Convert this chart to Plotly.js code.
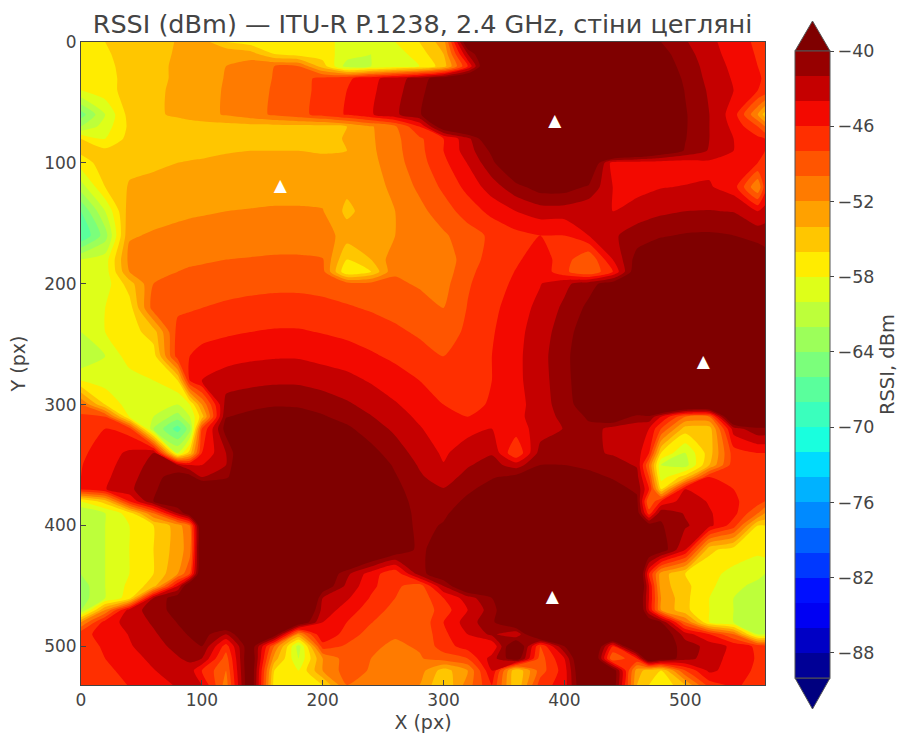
<!DOCTYPE html>
<html>
<head>
<meta charset="utf-8">
<script src="https://cdn.plot.ly/plotly-3.0.1.min.js"></script>
<style>html,body{margin:0;padding:0;background:#fff}#chart{width:898px;height:734px}</style>
</head>
<body>
<div id="chart"></div>
<script>
const xs = [0,20,40,60,80,90,100,120,140,160,180,200,220,240,260,280,300,320,340,360,380,400,420,440,460,470,480,500,520,540,560,566];
const ys = [0,10,20,30,40,60,70,80,90,100,120,140,160,180,190,200,220,240,260,280,300,310,320,340,350,360,370,380,390,400,420,440,450,460,470,480,490,500,510,520,532];

const r000 = [-57,-56,-55.4,-54.6,-53.9,-53.4,-53,-56,-57,-57,-57,-57,-59,-60,-58,-56,-53,-37,-36,-33,-32,-32,-33,-34.5,-37,-38.5,-40,-41.8,-43.5,-45,-46.4,-46.8];
const r010 = [-57,-56.2,-55.4,-54.6,-53.8,-53.3,-52.9,-52.1,-53,-56,-57,-57,-59,-60,-59,-57,-54,-42,-35,-31,-30,-30,-32,-34,-36.5,-37.6,-39.2,-41.2,-43.2,-44.8,-46.2,-46.6];
const r020 = [-57,-56.5,-55.3,-54.5,-53.7,-53.2,-52.8,-52,-51,-50,-50,-55,-61,-60,-59,-58,-55,-46,-34,-31,-30,-30,-31,-33,-36,-37.2,-38.6,-40.8,-42.8,-44.5,-46,-46.4];
const r030 = [-57.5,-56.7,-55.3,-54.5,-53.7,-53.2,-52.8,-51.9,-50.9,-49.9,-48.7,-47.5,-46.5,-44.6,-43,-41,-38.6,-35.9,-32.7,-30,-30,-30,-30.5,-32,-35,-36.4,-38,-40.4,-42.6,-44.2,-45.8,-46.2];
const r040 = [-58,-56.8,-55.2,-54.4,-53.6,-53.2,-52.8,-51.8,-50.8,-49.8,-48.7,-47.4,-46,-44.4,-42.7,-40.6,-38.2,-35.4,-31.7,-30,-30,-30,-30,-31,-34.7,-36.2,-37.7,-40.1,-42.3,-44,-46,-46.5];
const r060 = [-65,-60,-55.2,-54.4,-53.6,-53.1,-52.7,-51.8,-50.8,-49.7,-48.6,-47.3,-45.8,-44.2,-42.4,-40.2,-37.7,-34.5,-30,-30,-30,-30,-30,-30,-33.7,-35.4,-37,-39.8,-42,-45,-52,-55];
const r070 = [-62,-59,-55.6,-55.4,-55.2,-55.1,-55,-54.9,-54.8,-54.8,-54.8,-54.8,-54,-52.2,-50.4,-46,-37.6,-34.5,-30.2,-30,-30,-30,-30,-30,-34,-35.6,-37,-39.8,-42,-44.5,-48,-50];
const r080 = [-56,-58,-55.3,-55,-54.8,-54.7,-54.6,-54.5,-54.4,-54.4,-54.4,-54.4,-53.9,-52.3,-50.5,-48.4,-46,-42.7,-37,-30,-30,-30,-30,-30,-34,-35.8,-37.2,-39.9,-42,-44,-45.5,-46];
const r090 = [-55.5,-55.5,-54.9,-54.7,-54.4,-54.4,-54.2,-54.1,-54,-54,-54,-54.1,-54,-52.4,-50.6,-48.6,-46,-43,-39.5,-35,-30,-30,-30,-30.7,-34.5,-36,-37.6,-40.2,-42.2,-44,-45.8,-46];
const r100 = [-57,-55,-54.5,-54.3,-54,-53.9,-53.9,-53.7,-53.6,-53.6,-53.6,-53.7,-53.8,-52.6,-50.8,-48.8,-46.5,-43.9,-40.5,-36.5,-33,-33,-36,-45,-45,-45,-45,-45,-44.5,-44.5,-46,-46];
const r120 = [-61,-56,-53.8,-53.5,-53.2,-53.1,-53,-52.9,-52.8,-52.7,-52.7,-52.8,-53.5,-53,-51.4,-49.6,-47.6,-45.4,-43,-40.7,-39,-39,-40.3,-44,-44.8,-44.4,-44.1,-43.9,-43.8,-45,-52,-47];
const r140 = [-66,-60,-53,-52.7,-52.4,-52.3,-52.2,-52,-51.9,-51.8,-51.8,-51.9,-54.5,-53,-52,-50.6,-48.9,-47.1,-45.4,-44,-43,-43,-43.7,-44,-43,-42.7,-42.4,-42,-41.9,-42.1,-44,-43];
const r160 = [-68,-63,-52.2,-51.8,-51.5,-51.3,-51.2,-51,-50.9,-50.8,-50.8,-50.9,-53,-53,-52,-51.5,-50.3,-48.9,-47.6,-46.6,-46,-46,-44,-42.3,-41.1,-40.6,-40.2,-39.8,-39.7,-40,-40.7,-41];
const r180 = [-60,-59,-51.4,-51,-50.5,-50.3,-50.2,-50,-49.9,-49.8,-49.8,-49.9,-56,-54,-50.7,-51.2,-51.6,-48.6,-47.5,-46.3,-45,-47,-50,-44,-39.1,-38.5,-38,-37,-36.8,-37.4,-38.5,-38.9];
const r190 = [-59,-59,-52,-50.5,-50,-49.8,-49.7,-49.4,-49.2,-49.1,-49.1,-49.3,-58,-56,-50.2,-50.7,-51.2,-48.4,-47.2,-45.9,-44.6,-47.5,-50,-46,-38,-37.2,-36.6,-35.5,-35.4,-36,-37.2,-37.7];
const r200 = [-59,-59,-55,-50,-49.5,-49.3,-49.2,-48.9,-48.6,-48.5,-48.5,-48.7,-49,-49.3,-49.7,-50.2,-50.7,-48.2,-46.9,-45.6,-44.1,-42.5,-40.8,-38.8,-36.8,-35.8,-35,-33.7,-33.5,-34.5,-35.9,-36.5];
const r220 = [-59.5,-58,-57,-49,-48.4,-48.2,-48,-47.6,-47.4,-47.2,-47.2,-47.4,-47.8,-48.2,-48.7,-49.3,-50,-47.9,-46.5,-45,-43.4,-41.6,-39.5,-37.2,-34.5,-33,-31.9,-30,-30,-30.5,-33.5,-34];
const r240 = [-60,-58,-57,-55,-47.3,-47,-46.7,-46.3,-46,-45.8,-45.8,-46.1,-46.5,-47,-47.6,-48.3,-49,-47.6,-46.2,-44.6,-43,-40.9,-38.6,-35.9,-32.3,-31,-30,-30,-30,-30,-30.5,-31.7];
const r260 = [-62,-60,-57,-57,-47,-46,-45.3,-44.8,-44.4,-44.2,-44.2,-44.6,-45,-45.7,-46.4,-47.2,-48,-47.5,-46,-44.5,-42.7,-40.6,-38.1,-35,-31,-30,-30,-30,-30,-30,-30,-30];
const r280 = [-58,-59,-59,-58,-56,-46,-44,-43,-42.6,-42.4,-42.4,-42.9,-43.4,-44.2,-45.1,-46,-47,-47.5,-46,-44.5,-42.8,-40.7,-38.2,-35.2,-31.4,-30,-30,-30,-30,-30,-30,-30];
const r300 = [-50,-56,-59,-59,-60,-58,-52,-41.2,-40.6,-40.2,-40.3,-40.8,-41.7,-42.7,-43.8,-45,-46,-47.3,-45.5,-44.7,-43,-40.9,-38.6,-36.2,-33,-31.5,-30,-33,-33,-31,-32,-33];
const r310 = [-47.4,-48,-58,-60,-63,-60,-55,-40.1,-39.4,-39,-39.1,-39.8,-40.7,-41.9,-43.1,-44.4,-45.6,-46,-45,-44.5,-43.1,-41.4,-39.7,-37,-41,-40.5,-44,-50,-50,-34,-34,-35];
const r320 = [-47,-46,-47,-62,-67,-63,-48,-39,-38.1,-37.7,-37.8,-38.5,-39.6,-41,-42.4,-43.8,-45.2,-44.6,-44,-45,-43.1,-41.9,-40.5,-43,-43,-44,-48,-55,-55,-43,-40.5,-40.5];
const r340 = [-46.4,-45,-43.6,-42,-60,-55,-46,-42,-35.2,-34.5,-34.8,-35.9,-37.6,-39.3,-41,-42.8,-44.3,-43,-42.2,-48,-41.1,-41.1,-41.6,-42.2,-43,-46,-56,-60,-55,-47,-46,-46];
const r350 = [-46.1,-44.7,-43.1,-41.3,-42,-44,-44,-42,-33.5,-32.5,-33,-34.3,-36.3,-38.4,-40.3,-42.2,-43.9,-42.2,-41.2,-43,-40,-40,-40.5,-41.2,-42.2,-50,-60,-61,-54,-46.8,-46.5,-47];
const r360 = [-46,-44.4,-42.7,-40.8,-38.8,-39,-42,-41,-31.7,-30,-30.3,-32.7,-35.2,-37.6,-39.8,-41.7,-43,-41.3,-40.2,-39.3,-38.8,-38.8,-39.3,-40.2,-41.3,-48,-59,-55,-46,-46.4,-47.6,-48];
const r370 = [-45.7,-44.1,-42.4,-40.4,-38,-36.8,-35.5,-32.5,-30,-30,-30,-31,-33.9,-36.8,-39.3,-41.3,-41.9,-40.4,-39.1,-38,-37.5,-37.5,-38,-39.1,-40.4,-46,-56,-44,-44.7,-46,-47.3,-47.6];
const r380 = [-58,-55,-46,-40,-37.6,-36,-34.5,-31,-30,-30,-30,-30,-33,-36,-38.8,-41,-41.1,-39.5,-38,-36.6,-36,-36,-36.6,-38,-39.5,-50,-46,-42.8,-44.2,-45.7,-47,-48];
const r390 = [-62,-60,-57,-50,-42,-38,-33,-30,-30,-30,-30,-30,-32,-35.5,-38.4,-40.8,-40.4,-38.6,-36.8,-35.2,-34.3,-34.3,-35.2,-36.8,-38.6,-47,-40.4,-42.2,-43.8,-45.3,-50,-52];
const r400 = [-62,-60,-58,-56,-53,-50,-36,-30,-30,-30,-30,-30,-31,-35,-38.2,-40.7,-39.8,-37.7,-35.5,-33.5,-32.3,-32.3,-33.5,-35.5,-37.7,-38.7,-39.8,-41.7,-43.4,-47,-56,-56];
const r420 = [-62,-60,-58,-56,-53,-51,-36,-30,-30,-30,-30,-30,-31,-35,-38,-40.6,-38.5,-36,-33,-30,-30,-30,-30,-33,-36,-37.2,-38.5,-44,-55.5,-57,-57.5,-57];
const r440 = [-62,-60,-58,-56,-52,-48,-36,-30,-30,-30,-30,-37,-41.5,-45,-47.6,-41,-37.7,-34.7,-30.7,-30,-30,-30,-30,-30.7,-34,-46,-53,-56,-57.5,-58.5,-59.5,-60];
const r450 = [-63,-60,-57.5,-55,-44,-36.5,-34,-32,-30,-30,-30,-38,-42.5,-45.5,-47.5,-49.2,-42,-36,-31,-30,-30,-30,-30,-30.7,-34,-44,-53,-55.5,-57.5,-59.5,-60.5,-61];
const r460 = [-63,-60,-57,-42,-38.5,-37,-36,-33.3,-30.7,-29,-30,-42,-43.7,-46.2,-48,-49.5,-46,-43,-40,-30,-30,-30,-30,-30,-36,-44,-52,-55.5,-58,-60,-61,-61];
const r470 = [-62,-52,-43,-41.1,-39.1,-38,-37,-34.7,-32.7,-31.7,-34,-42.7,-45,-47,-48.7,-49.6,-47,-44,-41,-36,-30,-30,-30,-30.5,-35,-44,-52,-55.5,-58,-60,-61,-61];
const r480 = [-52,-45,-43.3,-41.7,-39.9,-39,-38,-36,-34.5,-33.5,-37,-44,-46,-47.9,-49.3,-49.7,-46,-43,-40.5,-36,-30,-30,-30,-30.7,-34.7,-38,-40,-50,-58,-60,-61,-61];
const r490 = [-46.6,-45.3,-43.9,-42.3,-40.6,-39.8,-39,-42,-36.2,-38,-52,-44,-47,-48.8,-49.8,-49.8,-46.5,-44,-41.5,-44,-34,-30,-31,-32,-34.5,-36,-37.5,-43,-46,-50,-60,-60];
const r500 = [-47,-45.7,-44.2,-42.9,-41.3,-40.6,-40,-47,-37.7,-50,-61,-47,-48.3,-49.7,-50.3,-49.8,-47,-45,-46,-36,-48,-40,-33,-46,-34,-36,-38.5,-40.8,-42.8,-44.5,-46.5,-47];
const r510 = [-47.3,-46,-44.8,-43.5,-42.2,-41.5,-42,-49,-37,-53,-60,-52,-49,-50,-50.6,-50.2,-49,-48,-43,-38,-49,-44,-33,-50,-46,-36,-38,-41.2,-43,-44.8,-46.2,-46.6];
const r520 = [-47.6,-46.5,-45.3,-44.1,-42.9,-43,-46,-50,-37,-56,-58,-52,-49,-50.2,-51,-51,-55,-52,-44,-56,-49,-45,-34,-38,-53,-55,-56,-48,-43.5,-45,-46.4,-46.9];
const r532 = [-48,-47,-45.9,-44.8,-43.8,-43.3,-44,-51,-37,-57,-57,-56,-50,-51,-52,-52,-56,-51,-46,-56,-47,-45,-35,-38,-54,-56,-58,-54,-47,-45.5,-47,-47.5];
const rssi = [r000,r010,r020,r030,r040,r060,r070,r080,r090,r100,r120,r140,r160,r180,r190,r200,r220,r240,r260,r280,r300,r310,r320,r340,r350,r360,r370,r380,r390,r400,r420,r440,r450,r460,r470,r480,r490,r500,r510,r520,r532];

const apX = [165,392,515,390];
const apY = [120,66,265,460];

const colorUnder = '#00007f';
const colorOver = '#7f0000';
const bandColors = ['#000096','#0000c5','#0000f3','#000fff','#0038ff','#0061ff','#008aff','#00b2ff','#00dbff','#19ffde','#3affbd','#5aff9c','#7bff7b','#9cff5a','#bdff3a','#deff19','#ffec00','#ffc600','#ffa100','#ff7b00','#ff5500','#ff2f00','#f30900','#c50000','#970000'];

const fillColors = [colorUnder].concat(bandColors, [colorOver]);
const contourScale = fillColors.map((c, i) => [i / (fillColors.length - 1), c]);
const barScale = [];
bandColors.forEach((c, i) => {
  barScale.push([i / bandColors.length, c]);
  barScale.push([(i + 1) / bandColors.length, c]);
});

const textColor = '#444444';
const W = 898, H = 734, L = 81, R = 765, T = 42, B = 685;
const px = v => (v - L) / (R - L);
const py = v => (B - v) / (B - T);
const barL = 795, barR = 830, barTop = 51, barBottom = 678, tipTop = 21, tipBottom = 709;

const traces = [
  {type:'heatmap', x:xs, y:ys, z:rssi, zmin:-90, zmax:-40, colorscale:barScale, showscale:true, hoverinfo:'skip',
   colorbar:{x:px(barL), xanchor:'left', xpad:0, ypad:0, y:py(barBottom), yanchor:'bottom', lenmode:'fraction',
     len:(barBottom-barTop)/(B-T), thickness:barR-barL, tick0:-40, dtick:6, ticks:'outside', ticklen:4, tickwidth:1,
     tickcolor:textColor, tickfont:{family:'DejaVu Sans', size:17.5, color:textColor}, outlinecolor:'#555555', outlinewidth:1,
     title:{text:'RSSI, dBm', side:'right', font:{family:'DejaVu Sans', size:19.5, color:textColor}}}},
  {type:'contour', x:xs, y:ys, z:rssi, autocontour:false, colorscale:contourScale, showscale:false, hoverinfo:'skip',
   contours:{start:-90, end:-40, size:2, coloring:'fill', showlines:false}, line:{width:0, smoothing:0.6}},
  {type:'scatter', mode:'text', x:apX, y:apY, text:apX.map(() => '▲'), textposition:'middle center', hoverinfo:'skip', showlegend:false,
   textfont:{family:'DejaVu Sans', size:17, color:'#ffffff'}}
];

const tri = (tip, base) => `M ${px(barL)} ${py(base)} L ${px((barL+barR)/2)} ${py(tip)} L ${px(barR)} ${py(base)} Z`;

const axisBase = {showgrid:false, zeroline:false, showline:true, mirror:true, linecolor:textColor, linewidth:1,
  ticks:'inside', ticklen:5, tickwidth:1, tickcolor:textColor, dtick:100, tick0:0,
  tickfont:{family:'DejaVu Sans', size:17, color:textColor}};

const layout = {
  width:W, height:H, margin:{l:L, r:W-R, t:T, b:H-B, autoexpand:false}, paper_bgcolor:'#fff', plot_bgcolor:'#fff', showlegend:false,
  title:{text:'RSSI (dBm) — ITU-R P.1238, 2.4 GHz, стіни цегляні', x:422.5/W, xanchor:'center', y:1-24/H, yanchor:'middle',
    font:{family:'DejaVu Sans', size:25.5, color:textColor}},
  xaxis:Object.assign({}, axisBase, {range:[0,566], title:{text:'X (px)', standoff:6, font:{family:'DejaVu Sans', size:19, color:textColor}}}),
  yaxis:Object.assign({}, axisBase, {range:[532,0], title:{text:'Y (px)', standoff:13, font:{family:'DejaVu Sans', size:19, color:textColor}}}),
  shapes:[
    {type:'path', xref:'paper', yref:'paper', layer:'above', path:tri(tipTop, barTop), fillcolor:colorOver, line:{color:'#555555', width:1}},
    {type:'path', xref:'paper', yref:'paper', layer:'above', path:tri(tipBottom, barBottom), fillcolor:colorUnder, line:{color:'#555555', width:1}}
  ]
};

Plotly.newPlot('chart', traces, layout, {displayModeBar:false, staticPlot:true});
</script>
</body>
</html>
